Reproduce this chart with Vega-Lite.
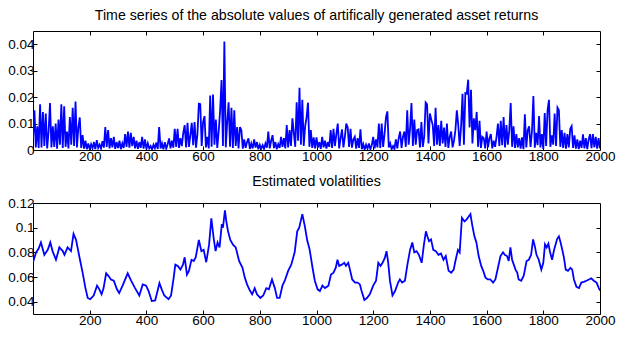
{
  "$schema": "https://vega.github.io/schema/vega-lite/v6.json",
  "background": "white",
  "padding": {"left": 7, "top": 8, "right": 5, "bottom": 5},
  "config": {
    "view": {"stroke": "black", "strokeWidth": 1},
    "axis": {"grid": false, "domain": false, "tickColor": "black", "tickSize": -4, "tickWidth": 1, "labelFont": "Liberation Sans", "labelFontSize": 13.5, "labelColor": "black", "labelPadding": 3, "labelFlush": false, "labelOverlap": false, "title": null},
    "title": {"font": "Liberation Sans", "fontSize": 14.2, "fontWeight": "normal", "color": "black", "offset": 7},
    "line": {"color": "#0000ff"}
  },
  "datasets": {
    "ret": [
      {"t":0,"r":0.004},{"t":5,"r":0.015},{"t":10,"r":0.001},{"t":15,"r":0.009},{"t":20,"r":0.0008},{"t":25,"r":0.0173},{"t":30,"r":0.001},{"t":35,"r":0.0144},{"t":40,"r":0.0015},{"t":45,"r":0.0138},
      {"t":50,"r":0.0006},{"t":55,"r":0.007},{"t":60,"r":0.0178},{"t":65,"r":0.001},{"t":70,"r":0.009},{"t":75,"r":0.0012},{"t":80,"r":0.01},{"t":85,"r":0.0005},{"t":90,"r":0.0115},{"t":95,"r":0.002},
      {"t":100,"r":0.0173},{"t":105,"r":0.0008},{"t":110,"r":0.0165},{"t":115,"r":0.0012},{"t":120,"r":0.007},{"t":125,"r":0.0006},{"t":130,"r":0.0125},{"t":135,"r":0.002},{"t":140,"r":0.016},{"t":145,"r":0.0015},
      {"t":150,"r":0.0183},{"t":155,"r":0.001},{"t":160,"r":0.0085},{"t":165,"r":0.0123},{"t":170,"r":0.0008},{"t":175,"r":0.0056},{"t":180,"r":0.0005},{"t":185,"r":0.0035},{"t":190,"r":0.0003},{"t":195,"r":0.0025},
      {"t":200,"r":0.0004},{"t":205,"r":0.0022},{"t":210,"r":0.0006},{"t":215,"r":0.003},{"t":220,"r":0.0003},{"t":225,"r":0.0037},{"t":230,"r":0.0008},{"t":235,"r":0.002},{"t":240,"r":0.0005},{"t":245,"r":0.0033},
      {"t":250,"r":0.0009},{"t":255,"r":0.0087},{"t":260,"r":0.0012},{"t":265,"r":0.0075},{"t":270,"r":0.0006},{"t":275,"r":0.0045},{"t":280,"r":0.001},{"t":285,"r":0.005},{"t":290,"r":0.0004},{"t":295,"r":0.003},
      {"t":300,"r":0.0007},{"t":305,"r":0.0035},{"t":310,"r":0.0003},{"t":315,"r":0.0025},{"t":320,"r":0.0008},{"t":325,"r":0.006},{"t":330,"r":0.0012},{"t":335,"r":0.007},{"t":340,"r":0.0009},{"t":345,"r":0.0065},
      {"t":350,"r":0.0015},{"t":355,"r":0.005},{"t":360,"r":0.0006},{"t":365,"r":0.0035},{"t":370,"r":0.0004},{"t":375,"r":0.003},{"t":380,"r":0.0008},{"t":385,"r":0.005},{"t":390,"r":0.0005},{"t":395,"r":0.004},
      {"t":400,"r":0.0003},{"t":405,"r":0.0025},{"t":410,"r":0.0006},{"t":415,"r":0.0015},{"t":420,"r":0.0002},{"t":425,"r":0.002},{"t":430,"r":0.0007},{"t":435,"r":0.0028},{"t":440,"r":0.0004},{"t":445,"r":0.0087},
      {"t":450,"r":0.0006},{"t":455,"r":0.0025},{"t":460,"r":0.0003},{"t":465,"r":0.003},{"t":470,"r":0.0005},{"t":475,"r":0.0022},{"t":480,"r":0.0044},{"t":485,"r":0.0006},{"t":490,"r":0.0035},{"t":495,"r":0.0009},
      {"t":500,"r":0.008},{"t":505,"r":0.0012},{"t":510,"r":0.008},{"t":515,"r":0.0008},{"t":520,"r":0.0045},{"t":525,"r":0.0015},{"t":530,"r":0.0065},{"t":535,"r":0.0094},{"t":540,"r":0.001},{"t":545,"r":0.0103},
      {"t":550,"r":0.0012},{"t":555,"r":0.0055},{"t":560,"r":0.0103},{"t":565,"r":0.0018},{"t":570,"r":0.0106},{"t":575,"r":0.0009},{"t":580,"r":0.006},{"t":585,"r":0.0175},{"t":590,"r":0.0173},{"t":595,"r":0.0015},
      {"t":600,"r":0.0106},{"t":605,"r":0.0128},{"t":610,"r":0.001},{"t":615,"r":0.005},{"t":620,"r":0.0006},{"t":625,"r":0.0206},{"t":630,"r":0.0012},{"t":635,"r":0.021},{"t":640,"r":0.002},{"t":645,"r":0.0115},
      {"t":650,"r":0.0008},{"t":655,"r":0.007},{"t":660,"r":0.015},{"t":665,"r":0.0265},{"t":670,"r":0.0015},{"t":675,"r":0.041},{"t":680,"r":0.001},{"t":685,"r":0.0105},{"t":690,"r":0.018},{"t":695,"r":0.0012},
      {"t":700,"r":0.016},{"t":705,"r":0.0008},{"t":710,"r":0.015},{"t":715,"r":0.0015},{"t":720,"r":0.0087},{"t":725,"r":0.0006},{"t":730,"r":0.0087},{"t":735,"r":0.0075},{"t":740,"r":0.0005},{"t":745,"r":0.004},
      {"t":750,"r":0.0008},{"t":755,"r":0.003},{"t":760,"r":0.0044},{"t":765,"r":0.0004},{"t":770,"r":0.0025},{"t":775,"r":0.0006},{"t":780,"r":0.004},{"t":785,"r":0.0009},{"t":790,"r":0.003},{"t":795,"r":0.0003},
      {"t":800,"r":0.002},{"t":805,"r":0.0005},{"t":810,"r":0.0018},{"t":815,"r":0.0004},{"t":820,"r":0.0025},{"t":825,"r":0.0009},{"t":830,"r":0.007},{"t":835,"r":0.0006},{"t":840,"r":0.0035},{"t":845,"r":0.0056},
      {"t":850,"r":0.0007},{"t":855,"r":0.003},{"t":860,"r":0.0003},{"t":865,"r":0.0022},{"t":870,"r":0.0008},{"t":875,"r":0.005},{"t":880,"r":0.0012},{"t":885,"r":0.0045},{"t":890,"r":0.0006},{"t":895,"r":0.0094},
      {"t":900,"r":0.001},{"t":905,"r":0.0075},{"t":910,"r":0.0015},{"t":915,"r":0.012},{"t":920,"r":0.0065},{"t":925,"r":0.0012},{"t":930,"r":0.018},{"t":935,"r":0.0035},{"t":940,"r":0.0235},{"t":945,"r":0.002},
      {"t":950,"r":0.019},{"t":955,"r":0.0015},{"t":960,"r":0.009},{"t":965,"r":0.0123},{"t":970,"r":0.0179},{"t":975,"r":0.0012},{"t":980,"r":0.0075},{"t":985,"r":0.0008},{"t":990,"r":0.0048},{"t":995,"r":0.0006},
      {"t":1000,"r":0.0048},{"t":1005,"r":0.0009},{"t":1010,"r":0.003},{"t":1015,"r":0.0004},{"t":1020,"r":0.005},{"t":1025,"r":0.001},{"t":1030,"r":0.0035},{"t":1035,"r":0.0005},{"t":1040,"r":0.003},{"t":1045,"r":0.0012},
      {"t":1050,"r":0.0075},{"t":1055,"r":0.0008},{"t":1060,"r":0.008},{"t":1065,"r":0.0015},{"t":1070,"r":0.006},{"t":1075,"r":0.01},{"t":1080,"r":0.0006},{"t":1085,"r":0.0045},{"t":1090,"r":0.0078},{"t":1095,"r":0.001},
      {"t":1100,"r":0.005},{"t":1105,"r":0.01},{"t":1110,"r":0.0085},{"t":1115,"r":0.0012},{"t":1120,"r":0.008},{"t":1125,"r":0.0009},{"t":1130,"r":0.004},{"t":1135,"r":0.005},{"t":1140,"r":0.0005},{"t":1145,"r":0.0045},
      {"t":1150,"r":0.0008},{"t":1155,"r":0.0078},{"t":1160,"r":0.0003},{"t":1165,"r":0.0022},{"t":1170,"r":0.0002},{"t":1175,"r":0.002},{"t":1180,"r":0.0005},{"t":1185,"r":0.0025},{"t":1190,"r":0.0003},{"t":1195,"r":0.0018},
      {"t":1200,"r":0.005},{"t":1205,"r":0.0006},{"t":1210,"r":0.004},{"t":1215,"r":0.001},{"t":1220,"r":0.01},{"t":1225,"r":0.0008},{"t":1230,"r":0.01},{"t":1235,"r":0.0012},{"t":1240,"r":0.006},{"t":1245,"r":0.0123},
      {"t":1250,"r":0.0146},{"t":1255,"r":0.001},{"t":1260,"r":0.0025},{"t":1265,"r":0.0003},{"t":1270,"r":0.0015},{"t":1275,"r":0.0004},{"t":1280,"r":0.004},{"t":1285,"r":0.0006},{"t":1290,"r":0.0045},{"t":1295,"r":0.007},
      {"t":1300,"r":0.0008},{"t":1305,"r":0.005},{"t":1310,"r":0.007},{"t":1315,"r":0.0012},{"t":1320,"r":0.015},{"t":1325,"r":0.002},{"t":1330,"r":0.008},{"t":1335,"r":0.0178},{"t":1340,"r":0.0015},{"t":1345,"r":0.0115},
      {"t":1350,"r":0.002},{"t":1355,"r":0.0075},{"t":1360,"r":0.0078},{"t":1365,"r":0.001},{"t":1370,"r":0.0106},{"t":1375,"r":0.0012},{"t":1380,"r":0.005},{"t":1385,"r":0.018},{"t":1390,"r":0.0173},{"t":1395,"r":0.0025},
      {"t":1400,"r":0.0138},{"t":1405,"r":0.0115},{"t":1410,"r":0.0094},{"t":1415,"r":0.0015},{"t":1420,"r":0.016},{"t":1425,"r":0.002},{"t":1430,"r":0.0094},{"t":1435,"r":0.0015},{"t":1440,"r":0.011},{"t":1445,"r":0.0025},
      {"t":1450,"r":0.0085},{"t":1455,"r":0.0012},{"t":1460,"r":0.01},{"t":1465,"r":0.0008},{"t":1470,"r":0.005},{"t":1475,"r":0.007},{"t":1480,"r":0.001},{"t":1485,"r":0.0035},{"t":1490,"r":0.0075},{"t":1495,"r":0.015},
      {"t":1500,"r":0.0094},{"t":1505,"r":0.0015},{"t":1510,"r":0.009},{"t":1515,"r":0.0213},{"t":1520,"r":0.002},{"t":1525,"r":0.0215},{"t":1530,"r":0.0213},{"t":1535,"r":0.0266},{"t":1540,"r":0.0085},{"t":1545,"r":0.0228},
      {"t":1550,"r":0.0025},{"t":1555,"r":0.012},{"t":1560,"r":0.0075},{"t":1565,"r":0.0144},{"t":1570,"r":0.0012},{"t":1575,"r":0.011},{"t":1580,"r":0.0008},{"t":1585,"r":0.005},{"t":1590,"r":0.0045},{"t":1595,"r":0.0006},
      {"t":1600,"r":0.007},{"t":1605,"r":0.001},{"t":1610,"r":0.0045},{"t":1615,"r":0.006},{"t":1620,"r":0.0006},{"t":1625,"r":0.0035},{"t":1630,"r":0.0012},{"t":1635,"r":0.005},{"t":1640,"r":0.01},{"t":1645,"r":0.0015},
      {"t":1650,"r":0.011},{"t":1655,"r":0.0018},{"t":1660,"r":0.0125},{"t":1665,"r":0.001},{"t":1670,"r":0.0094},{"t":1675,"r":0.002},{"t":1680,"r":0.0075},{"t":1685,"r":0.0178},{"t":1690,"r":0.0012},{"t":1695,"r":0.009},
      {"t":1700,"r":0.0008},{"t":1705,"r":0.006},{"t":1710,"r":0.001},{"t":1715,"r":0.0045},{"t":1720,"r":0.0005},{"t":1725,"r":0.0048},{"t":1730,"r":0.0003},{"t":1735,"r":0.0135},{"t":1740,"r":0.001},{"t":1745,"r":0.0075},
      {"t":1750,"r":0.009},{"t":1755,"r":0.0012},{"t":1760,"r":0.007},{"t":1765,"r":0.0204},{"t":1770,"r":0.0009},{"t":1775,"r":0.0065},{"t":1780,"r":0.0018},{"t":1785,"r":0.0128},{"t":1790,"r":0.001},{"t":1795,"r":0.006},
      {"t":1800,"r":0.0004},{"t":1805,"r":0.014},{"t":1810,"r":0.0015},{"t":1815,"r":0.015},{"t":1820,"r":0.019},{"t":1825,"r":0.0012},{"t":1830,"r":0.0055},{"t":1835,"r":0.002},{"t":1840,"r":0.0138},{"t":1845,"r":0.0015},
      {"t":1850,"r":0.016},{"t":1855,"r":0.015},{"t":1860,"r":0.0012},{"t":1865,"r":0.0075},{"t":1870,"r":0.0008},{"t":1875,"r":0.0065},{"t":1880,"r":0.0005},{"t":1885,"r":0.006},{"t":1890,"r":0.001},{"t":1895,"r":0.008},
      {"t":1900,"r":0.009},{"t":1905,"r":0.0008},{"t":1910,"r":0.0055},{"t":1915,"r":0.0005},{"t":1920,"r":0.004},{"t":1925,"r":0.0003},{"t":1930,"r":0.0035},{"t":1935,"r":0.0008},{"t":1940,"r":0.0059},{"t":1945,"r":0.0006},
      {"t":1950,"r":0.0045},{"t":1955,"r":0.0003},{"t":1960,"r":0.004},{"t":1965,"r":0.006},{"t":1970,"r":0.0007},{"t":1975,"r":0.006},{"t":1980,"r":0.001},{"t":1985,"r":0.005},{"t":1990,"r":0.0005},{"t":1995,"r":0.0045},
      {"t":2000,"r":0.0006}
    ],
    "vol": [
      {"t":0,"v":0.072},{"t":11,"v":0.08},{"t":20,"v":0.083},{"t":28,"v":0.088},{"t":40,"v":0.078},{"t":52,"v":0.082},{"t":61,"v":0.088},{"t":69,"v":0.081},{"t":81,"v":0.074},{"t":93,"v":0.084},
      {"t":105,"v":0.081},{"t":111,"v":0.078},{"t":122,"v":0.084},{"t":134,"v":0.081},{"t":143,"v":0.095},{"t":152,"v":0.09},{"t":163,"v":0.077},{"t":175,"v":0.0635},{"t":185,"v":0.051},{"t":193,"v":0.043},
      {"t":202,"v":0.042},{"t":214,"v":0.045},{"t":226,"v":0.053},{"t":234,"v":0.05},{"t":242,"v":0.046},{"t":249,"v":0.051},{"t":258,"v":0.063},{"t":266,"v":0.061},{"t":275,"v":0.058},{"t":285,"v":0.057},
      {"t":296,"v":0.05},{"t":304,"v":0.047},{"t":316,"v":0.053},{"t":334,"v":0.063},{"t":346,"v":0.057},{"t":360,"v":0.051},{"t":375,"v":0.045},{"t":387,"v":0.054},{"t":399,"v":0.053},{"t":407,"v":0.049},
      {"t":419,"v":0.0405},{"t":431,"v":0.041},{"t":446,"v":0.055},{"t":454,"v":0.05},{"t":463,"v":0.045},{"t":478,"v":0.042},{"t":487,"v":0.045},{"t":496,"v":0.059},{"t":502,"v":0.07},{"t":511,"v":0.069},
      {"t":520,"v":0.066},{"t":529,"v":0.07},{"t":535,"v":0.076},{"t":543,"v":0.062},{"t":550,"v":0.065},{"t":559,"v":0.074},{"t":567,"v":0.073},{"t":574,"v":0.076},{"t":585,"v":0.09},{"t":594,"v":0.081},
      {"t":602,"v":0.082},{"t":611,"v":0.072},{"t":621,"v":0.086},{"t":629,"v":0.1075},{"t":637,"v":0.092},{"t":644,"v":0.081},{"t":651,"v":0.088},{"t":658,"v":0.084},{"t":666,"v":0.103},{"t":670,"v":0.1},
      {"t":677,"v":0.114},{"t":682,"v":0.105},{"t":688,"v":0.097},{"t":696,"v":0.09},{"t":706,"v":0.086},{"t":715,"v":0.084},{"t":727,"v":0.073},{"t":739,"v":0.0675},{"t":747,"v":0.0595},{"t":755,"v":0.054},
      {"t":765,"v":0.049},{"t":773,"v":0.046},{"t":782,"v":0.051},{"t":790,"v":0.046},{"t":802,"v":0.043},{"t":812,"v":0.045},{"t":823,"v":0.051},{"t":832,"v":0.05},{"t":843,"v":0.058},{"t":853,"v":0.051},
      {"t":861,"v":0.043},{"t":870,"v":0.043},{"t":880,"v":0.053},{"t":888,"v":0.057},{"t":900,"v":0.065},{"t":911,"v":0.07},{"t":923,"v":0.08},{"t":932,"v":0.097},{"t":939,"v":0.1},{"t":950,"v":0.111},
      {"t":959,"v":0.101},{"t":967,"v":0.09},{"t":976,"v":0.082},{"t":986,"v":0.0675},{"t":994,"v":0.057},{"t":1004,"v":0.05},{"t":1012,"v":0.0486},{"t":1021,"v":0.053},{"t":1030,"v":0.051},{"t":1042,"v":0.053},
      {"t":1051,"v":0.062},{"t":1060,"v":0.0635},{"t":1068,"v":0.0675},{"t":1074,"v":0.074},{"t":1080,"v":0.069},{"t":1089,"v":0.07},{"t":1098,"v":0.0715},{"t":1104,"v":0.069},{"t":1112,"v":0.0715},{"t":1118,"v":0.066},
      {"t":1126,"v":0.058},{"t":1136,"v":0.0555},{"t":1145,"v":0.0555},{"t":1153,"v":0.054},{"t":1159,"v":0.0486},{"t":1169,"v":0.0414},{"t":1177,"v":0.0427},{"t":1188,"v":0.046},{"t":1200,"v":0.053},{"t":1210,"v":0.057},
      {"t":1218,"v":0.0715},{"t":1226,"v":0.069},{"t":1233,"v":0.0715},{"t":1241,"v":0.0755},{"t":1247,"v":0.081},{"t":1253,"v":0.0715},{"t":1259,"v":0.057},{"t":1268,"v":0.045},{"t":1277,"v":0.0486},{"t":1288,"v":0.0555},
      {"t":1294,"v":0.058},{"t":1302,"v":0.0555},{"t":1312,"v":0.057},{"t":1320,"v":0.069},{"t":1330,"v":0.082},{"t":1338,"v":0.088},{"t":1345,"v":0.08},{"t":1353,"v":0.081},{"t":1361,"v":0.078},{"t":1371,"v":0.0715},
      {"t":1379,"v":0.0865},{"t":1386,"v":0.097},{"t":1391,"v":0.093},{"t":1397,"v":0.089},{"t":1404,"v":0.0905},{"t":1412,"v":0.082},{"t":1421,"v":0.081},{"t":1430,"v":0.078},{"t":1439,"v":0.079},{"t":1448,"v":0.074},
      {"t":1456,"v":0.077},{"t":1466,"v":0.065},{"t":1475,"v":0.0635},{"t":1484,"v":0.066},{"t":1490,"v":0.073},{"t":1499,"v":0.082},{"t":1505,"v":0.08},{"t":1513,"v":0.108},{"t":1522,"v":0.105},{"t":1529,"v":0.1065},
      {"t":1537,"v":0.109},{"t":1543,"v":0.111},{"t":1549,"v":0.1025},{"t":1557,"v":0.093},{"t":1564,"v":0.088},{"t":1572,"v":0.077},{"t":1581,"v":0.069},{"t":1588,"v":0.065},{"t":1596,"v":0.0595},{"t":1604,"v":0.058},
      {"t":1613,"v":0.058},{"t":1623,"v":0.0555},{"t":1631,"v":0.058},{"t":1640,"v":0.0675},{"t":1649,"v":0.077},{"t":1658,"v":0.08},{"t":1664,"v":0.078},{"t":1672,"v":0.077},{"t":1678,"v":0.073},{"t":1684,"v":0.084},
      {"t":1690,"v":0.074},{"t":1696,"v":0.07},{"t":1702,"v":0.066},{"t":1708,"v":0.0635},{"t":1713,"v":0.058},{"t":1722,"v":0.057},{"t":1731,"v":0.061},{"t":1741,"v":0.073},{"t":1749,"v":0.074},{"t":1757,"v":0.078},
      {"t":1764,"v":0.0905},{"t":1770,"v":0.085},{"t":1776,"v":0.078},{"t":1784,"v":0.074},{"t":1793,"v":0.066},{"t":1800,"v":0.0715},{"t":1806,"v":0.0865},{"t":1812,"v":0.084},{"t":1818,"v":0.087},{"t":1824,"v":0.08},
      {"t":1831,"v":0.074},{"t":1838,"v":0.082},{"t":1844,"v":0.087},{"t":1849,"v":0.091},{"t":1855,"v":0.093},{"t":1861,"v":0.088},{"t":1867,"v":0.082},{"t":1873,"v":0.0755},{"t":1879,"v":0.066},{"t":1887,"v":0.065},
      {"t":1896,"v":0.0675},{"t":1902,"v":0.066},{"t":1908,"v":0.058},{"t":1917,"v":0.052},{"t":1926,"v":0.051},{"t":1934,"v":0.0555},{"t":1943,"v":0.056},{"t":1952,"v":0.057},{"t":1961,"v":0.058},{"t":1969,"v":0.059},
      {"t":1978,"v":0.057},{"t":1988,"v":0.0555},{"t":1996,"v":0.051},{"t":2000,"v":0.049}
    ]
  },
  "bounds": "flush",
  "spacing": 53,
  "vconcat": [
    {
      "title": "Time series of the absolute values of artifically generated asset returns",
      "width": 567,
      "height": 119,
      "data": {"name": "ret"},
      "layer": [
        {
          "mark": {"type": "line", "color": "#0000ff", "strokeWidth": 1.8, "clip": true},
          "encoding": {
            "x": {"field": "t", "type": "quantitative", "scale": {"domain": [0, 2000], "nice": false, "zero": false}, "axis": {"values": [200, 400, 600, 800, 1000, 1200, 1400, 1600, 1800, 2000], "format": "d"}},
            "y": {"field": "r", "type": "quantitative", "scale": {"domain": [0, 0.045], "nice": false, "zero": false}, "axis": {"values": [0, 0.01, 0.02, 0.03, 0.04], "format": ".2~f"}}
          }
        },
        {
          "mark": {"type": "line", "strokeOpacity": 0},
          "encoding": {
            "x": {"field": "t", "type": "quantitative", "axis": {"orient": "top", "labels": false, "values": [200, 400, 600, 800, 1000, 1200, 1400, 1600, 1800]}},
            "y": {"field": "r", "type": "quantitative", "axis": {"orient": "right", "labels": false, "values": [0.01, 0.02, 0.03, 0.04]}}
          }
        }
      ],
      "resolve": {"axis": {"x": "independent", "y": "independent"}}
    },
    {
      "title": "Estimated volatilities",
      "width": 567,
      "height": 111,
      "data": {"name": "vol"},
      "layer": [
        {
          "mark": {"type": "line", "color": "#0000ff", "strokeWidth": 1.8, "clip": true},
          "encoding": {
            "x": {"field": "t", "type": "quantitative", "scale": {"domain": [0, 2000], "nice": false, "zero": false}, "axis": {"values": [200, 400, 600, 800, 1000, 1200, 1400, 1600, 1800, 2000], "format": "d"}},
            "y": {"field": "v", "type": "quantitative", "scale": {"domain": [0.03, 0.12], "nice": false, "zero": false}, "axis": {"values": [0.04, 0.06, 0.08, 0.1, 0.12], "format": ".2~f"}}
          }
        },
        {
          "mark": {"type": "line", "strokeOpacity": 0},
          "encoding": {
            "x": {"field": "t", "type": "quantitative", "axis": {"orient": "top", "labels": false, "values": [200, 400, 600, 800, 1000, 1200, 1400, 1600, 1800]}},
            "y": {"field": "v", "type": "quantitative", "axis": {"orient": "right", "labels": false, "values": [0.04, 0.06, 0.08, 0.1]}}
          }
        }
      ],
      "resolve": {"axis": {"x": "independent", "y": "independent"}}
    }
  ]
}
